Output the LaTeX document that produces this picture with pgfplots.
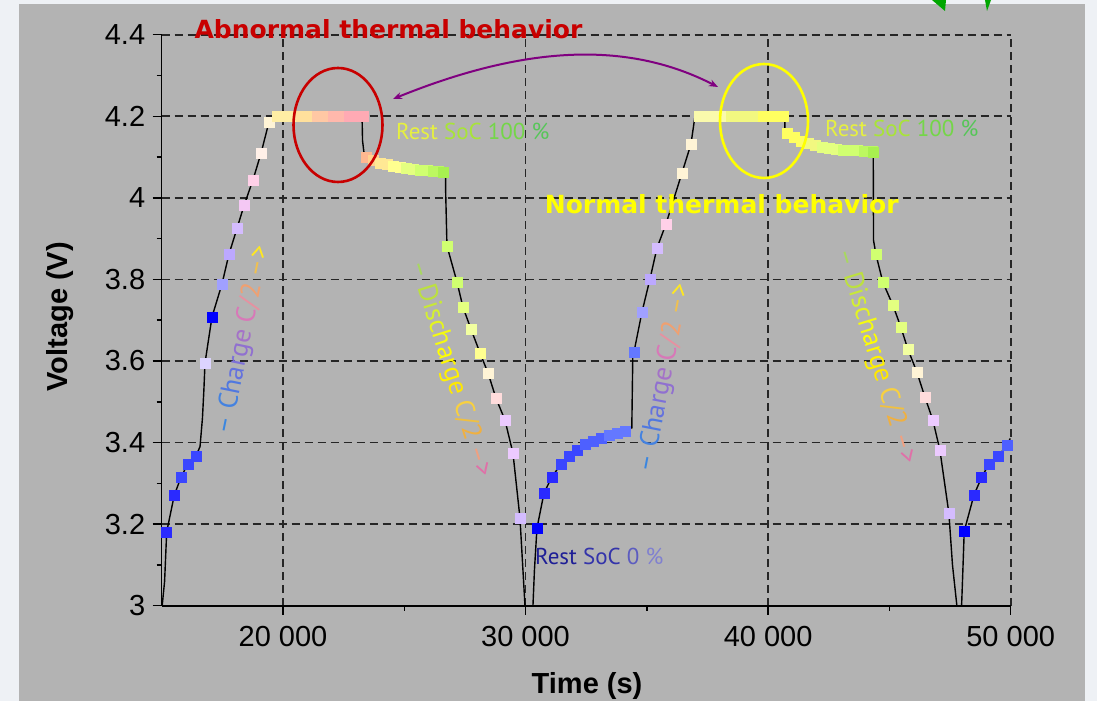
\documentclass[border=0pt]{standalone}
\usepackage{pgfplots}
\pgfplotsset{compat=1.18}
\usepackage{fontspec}
\setmainfont{Liberation Sans}
\newfontfamily\ann{PT Sans}
\newfontfamily\dejavu{DejaVu Sans}
\usetikzlibrary{arrows.meta}

\definecolor{panel}{HTML}{B3B3B3}
\definecolor{outerbg}{HTML}{EEF1F5}
\definecolor{gridc}{HTML}{262626}
\definecolor{cb0}{HTML}{0000FF}
\definecolor{cb1}{HTML}{2A2AFF}
\definecolor{cb2}{HTML}{3A46FF}
\definecolor{cb3}{HTML}{4E60FF}
\definecolor{cb4}{HTML}{6478FF}
\definecolor{cp0}{HTML}{DCD4FF}
\definecolor{cp1}{HTML}{A0A0FF}
\definecolor{cp2}{HTML}{BCA8FF}
\definecolor{cp3}{HTML}{D4BCFF}
\definecolor{cp4}{HTML}{ECCAFF}
\definecolor{ck0}{HTML}{F4C8F4}
\definecolor{ck1}{HTML}{FFD0E8}
\definecolor{ck2}{HTML}{FFDCDC}
\definecolor{ck3}{HTML}{FFF0E8}
\definecolor{ck4}{HTML}{FFF4D6}
\definecolor{ca1}{HTML}{FFEEA4}
\definecolor{ca2}{HTML}{FFE09C}
\definecolor{ca3}{HTML}{FFC8A4}
\definecolor{ca4}{HTML}{FFB8AC}
\definecolor{ca5}{HTML}{FFAAB4}
\definecolor{co1}{HTML}{FFB890}
\definecolor{co2}{HTML}{FFD490}
\definecolor{cy1}{HTML}{FFE894}
\definecolor{cy2}{HTML}{FFFF90}
\definecolor{cy3}{HTML}{F2FFA0}
\definecolor{cl1}{HTML}{FAFAAC}
\definecolor{cl2}{HTML}{F2F880}
\definecolor{cl3}{HTML}{FFFF60}
\definecolor{cg1}{HTML}{E4FF80}
\definecolor{cg2}{HTML}{D0FF70}
\definecolor{cg3}{HTML}{BCF860}
\definecolor{cg4}{HTML}{A8F050}

\newcommand{\cc}[2]{\textcolor[HTML]{#1}{#2}}

\begin{document}
\begin{tikzpicture}[x=1pt,y=1pt]
\path[use as bounding box] (-161.7,-95.3) rectangle (935.3,605.7);
\fill[outerbg] (-161.7,-95.3) rectangle (935.3,605.7);
\fill[panel] (-142.7,-95.3) rectangle (923.3,601.7);
\fill[green!65!black] (770.3,605.7) -- (784.3,605.7) -- (783.3,594.7) -- cycle;
\fill[green!65!black] (823.3,605.7) -- (829.3,605.7) -- (825.3,594.7) -- cycle;

\begin{axis}[
  at={(0,0)}, anchor=south west,
  scale only axis, width=849pt, height=571pt,
  xmin=15000, xmax=50000, ymin=3, ymax=4.4,
  axis x line*=bottom, axis y line*=left,
  axis line style={-, line width=1.6pt, black},
  scaled x ticks=false, scaled y ticks=false,
  xtick={20000,30000,40000,50000},
  xticklabels={20 000,30 000,40 000,50 000},
  minor xtick={25000,35000,45000},
  ytick={3,3.2,3.4,3.6,3.8,4,4.2,4.4},
  yticklabels={3,3.2,3.4,3.6,3.8,4,4.2,4.4},
  minor ytick={3.1,3.3,3.5,3.7,3.9,4.1,4.3},
  tick align=outside,
  major tick length=9pt, minor tick length=5pt,
  tick style={line width=1.5pt, black},
  tick label style={font=\fontsize{29}{29}\selectfont, text=black},
  xticklabel style={yshift=-8pt},
  yticklabel style={xshift=-4pt},
  grid=major,
  major grid style={gridc, line width=1.7pt, dash pattern=on 8pt off 5pt},
  xlabel={Time (s)}, ylabel={Voltage (V)},
  label style={font=\fontsize{29}{29}\selectfont\bfseries, text=black},
  xlabel style={at={(axis description cs:0.501,0)}, anchor=center, yshift=-80pt},
  ylabel style={at={(axis description cs:0,0.506)}, anchor=center, yshift=101.7pt},
  clip=false,
]
\addplot[black, line width=1.4pt, no markers] coordinates {
(15020,3.0) (15120,3.06) (15206,3.181) (15519,3.271) (15796,3.315) (16072,3.347)
(16414,3.367) (16580,3.39) (16680,3.46) (16740,3.53) (16785,3.595) (17073,3.708)
(17486,3.789) (17774,3.862) (18104,3.925) (18392,3.981) (18763,4.044) (19093,4.109)
(19423,4.186) (19588,4.2) (23260,4.2) (23280,4.14) (23350,4.105) (23450,4.100)
(23706,4.093) (24000,4.085) (24283,4.082) (24534,4.078) (24823,4.076) (25099,4.073)
(25359,4.071) (25647,4.068) (25936,4.067) (26183,4.066) (26390,4.065) (26595,4.063)
(26700,4.062) (26707,4.014) (26760,3.882) (27172,3.794) (27420,3.732) (27750,3.678)
(28121,3.620) (28450,3.571) (28780,3.509) (29151,3.455) (29481,3.374) (29770,3.215)
(29880,3.10) (29976,3.0) (30305,3.0) (30367,3.088) (30470,3.190) (30759,3.276)
(31088,3.316) (31459,3.347) (31789,3.367) (32119,3.382) (32449,3.397) (32779,3.404)
(33109,3.411) (33438,3.417) (33768,3.423) (34098,3.428) (34181,3.433) (34380,3.436)
(34420,3.61) (34469,3.622) (34799,3.720) (35129,3.801) (35418,3.877) (35789,3.936)
(36448,4.061) (36819,4.132) (36984,4.2) (40692,4.2) (40692,4.171) (40788,4.158)
(41080,4.149) (41370,4.140) (41660,4.133) (41950,4.128) (42240,4.124) (42530,4.122)
(42820,4.120) (43110,4.118) (43400,4.117) (43690,4.116) (43980,4.115) (44270,4.114)
(44333,4.113) (44345,3.896) (44442,3.862) (44730,3.793) (45142,3.737) (45472,3.683)
(45760,3.629) (46131,3.573) (46461,3.512) (46791,3.455) (47080,3.382) (47451,3.227)
(47600,3.10) (47781,3.0) (47976,3.0) (48030,3.09) (48084,3.183) (48484,3.271)
(48801,3.315) (49101,3.347) (49486,3.367) (49843,3.393) (49980,3.41)
};
\addplot[scatter, only marks, mark=square*, mark size=5pt,
  point meta=explicit symbolic,
  scatter/classes={
    cb0={draw=cb0,fill=cb0}, cb1={draw=cb1,fill=cb1}, cb2={draw=cb2,fill=cb2},
    cb3={draw=cb3,fill=cb3}, cb4={draw=cb4,fill=cb4},
    cp0={draw=cp0,fill=cp0}, cp1={draw=cp1,fill=cp1}, cp2={draw=cp2,fill=cp2},
    cp3={draw=cp3,fill=cp3}, cp4={draw=cp4,fill=cp4},
    ck0={draw=ck0,fill=ck0}, ck1={draw=ck1,fill=ck1}, ck2={draw=ck2,fill=ck2},
    ck3={draw=ck3,fill=ck3}, ck4={draw=ck4,fill=ck4},
    ca1={draw=ca1,fill=ca1}, ca2={draw=ca2,fill=ca2}, ca3={draw=ca3,fill=ca3},
    ca4={draw=ca4,fill=ca4}, ca5={draw=ca5,fill=ca5},
    co1={draw=co1,fill=co1}, co2={draw=co2,fill=co2},
    cy1={draw=cy1,fill=cy1}, cy2={draw=cy2,fill=cy2}, cy3={draw=cy3,fill=cy3},
    cl1={draw=cl1,fill=cl1}, cl2={draw=cl2,fill=cl2}, cl3={draw=cl3,fill=cl3},
    cg1={draw=cg1,fill=cg1}, cg2={draw=cg2,fill=cg2}, cg3={draw=cg3,fill=cg3},
    cg4={draw=cg4,fill=cg4}}]
table[meta=c] {
x y c
15206 3.181 cb1
15519 3.271 cb1
15796 3.315 cb2
16072 3.347 cb2
16414 3.367 cb2
16785 3.595 cp0
17073 3.708 cb0
17486 3.789 cp1
17774 3.862 cp2
18104 3.925 cp3
18392 3.981 ck0
18763 4.044 ck1
19093 4.109 ck3
19423 4.186 ck4
19753 4.2 ca1
19918 4.2 ca1
20083 4.2 ca1
20248 4.2 ca1
20413 4.2 ca1
20578 4.2 ca1
20743 4.2 ca2
20908 4.2 ca2
21073 4.2 ca2
21238 4.2 ca2
21403 4.2 ca3
21568 4.2 ca3
21733 4.2 ca3
21898 4.2 ca3
22063 4.2 ca4
22228 4.2 ca4
22393 4.2 ca4
22558 4.2 ca4
22723 4.2 ca5
22888 4.2 ca5
23053 4.2 ca5
23218 4.2 ca5
23300 4.2 ca5
23450 4.100 co1
23706 4.093 co2
24000 4.085 cy1
24283 4.082 cy1
24534 4.078 cy2
24823 4.076 cy2
25099 4.073 cg1
25359 4.071 cg1
25647 4.068 cg2
25936 4.067 cg2
26183 4.066 cg3
26390 4.065 cg3
26595 4.063 cg4
26760 3.882 cg2
27172 3.794 cg2
27420 3.732 cg1
27750 3.678 cy3
28121 3.620 cy2
28450 3.571 ck4
28780 3.509 ck2
29151 3.455 cp4
29481 3.374 cp4
29770 3.215 cp3
30470 3.190 cb0
30759 3.276 cb1
31088 3.316 cb1
31459 3.347 cb2
31789 3.367 cb2
32119 3.382 cb2
32449 3.397 cb3
32779 3.404 cb3
33109 3.411 cb3
33438 3.417 cb4
33768 3.423 cb4
34098 3.428 cb4
34469 3.622 cb4
34799 3.720 cp1
35129 3.801 cp2
35418 3.877 cp3
35789 3.936 ck1
36448 4.061 ck4
36819 4.132 ck4
37147 4.2 cl1
37312 4.2 cl1
37477 4.2 cl1
37642 4.2 cl1
37807 4.2 cl1
37972 4.2 cl1
38137 4.2 cl1
38302 4.2 cl1
38467 4.2 cl2
38632 4.2 cl2
38797 4.2 cl2
38962 4.2 cl2
39127 4.2 cl2
39292 4.2 cl2
39457 4.2 cl2
39622 4.2 cl2
39787 4.2 cl3
39952 4.2 cl3
40117 4.2 cl3
40282 4.2 cl3
40447 4.2 cl3
40610 4.2 cl3
40788 4.158 cl3
41080 4.149 cl3
41370 4.140 cl3
41660 4.133 cl2
41950 4.128 cl2
42240 4.124 cg1
42530 4.122 cg1
42820 4.120 cg1
43110 4.118 cg2
43400 4.117 cg2
43690 4.116 cg2
43980 4.115 cg3
44270 4.114 cg3
44333 4.113 cg4
44442 3.862 cg2
44730 3.793 cg2
45142 3.737 cg1
45472 3.683 cg1
45760 3.629 cy3
46131 3.573 ck4
46461 3.512 ck2
46791 3.455 cp4
47080 3.382 cp4
47451 3.227 cp3
48084 3.183 cb0
48484 3.271 cb1
48801 3.315 cb1
49101 3.347 cb2
49486 3.367 cb2
49843 3.393 cb3
};
\end{axis}

% annotations
\node[anchor=base, inner sep=0] at (226.8,566.7)
  {\dejavu\bfseries\fontsize{25}{25}\selectfont\cc{C80000}{Abnormal thermal behavior}};
\node[anchor=base, inner sep=0] at (560,392.4)
  {\dejavu\bfseries\fontsize{25}{25}\selectfont\cc{FFFF00}{Normal thermal behavior}};
\draw[color={rgb,255:red,200;green,0;blue,0}, line width=2.6pt] (176.3,480.7) ellipse [x radius=44.5, y radius=57];
\draw[color={rgb,255:red,255;green,255;blue,0}, line width=2.6pt] (602.3,484.7) ellipse [x radius=44, y radius=57];
\draw[color={rgb,255:red,128;green,0;blue,128}, line width=2pt, {Stealth[length=9pt,width=7pt]}-{Stealth[length=9pt,width=7pt]}]
  (231.3,506.7) .. controls (370,563) and (470,563) .. (556.3,518.7);

\node[anchor=base west, inner sep=0] at (234.3,465.7)
  {\ann\fontsize{23}{23}\selectfont\cc{E6F040}{Rest} \cc{A8E438}{SoC} \cc{74D648}{100} \cc{56C658}{\%}};
\node[anchor=base west, inner sep=0] at (663.3,469)
  {\ann\fontsize{23}{23}\selectfont\cc{E6F040}{Rest} \cc{A8E438}{SoC} \cc{74D648}{100} \cc{56C658}{\%}};
\node[anchor=base west, inner sep=0] at (373.3,40.7)
  {\ann\fontsize{23}{23}\selectfont\cc{1E1E96}{Rest} \cc{3434AA}{SoC} \cc{5C5CC0}{0} \cc{8080D0}{\%}};

\newcommand{\chargetext}{\ann\fontsize{27}{27}\selectfont
  \cc{3A86E0}{–} \cc{4482E0}{C}\cc{5078E0}{h}\cc{6472DE}{a}\cc{7C70D8}{r}\cc{9070D0}{g}\cc{A472C8}{e}
  \cc{D878B8}{C}\cc{E890A0}{/}\cc{F0A070}{2} \cc{F0C050}{–}\cc{FFE820}{>}}
\newcommand{\dischargetext}{\ann\fontsize{27}{27}\selectfont
  \cc{A8D860}{–} \cc{BCE040}{D}\cc{C8E838}{i}\cc{D4F030}{s}\cc{E4F420}{c}\cc{F4FA10}{h}\cc{FFFF00}{a}\cc{FFF800}{r}\cc{FFF000}{g}\cc{FFE800}{e}
  \cc{F8D040}{C}\cc{F0C040}{/}\cc{F0B040}{2} \cc{F0A080}{–}\cc{E070A8}{>}}
\node[rotate=78.5, inner sep=0] at (81.3,265.7) {\chargetext};
\node[rotate=79, inner sep=0] at (502.3,227.7) {\chargetext};
\node[rotate=-72.6, inner sep=0] at (288.3,236.7) {\dischargetext};
\node[rotate=-73, inner sep=0] at (713.8,249.2) {\dischargetext};
\end{tikzpicture}
\end{document}
